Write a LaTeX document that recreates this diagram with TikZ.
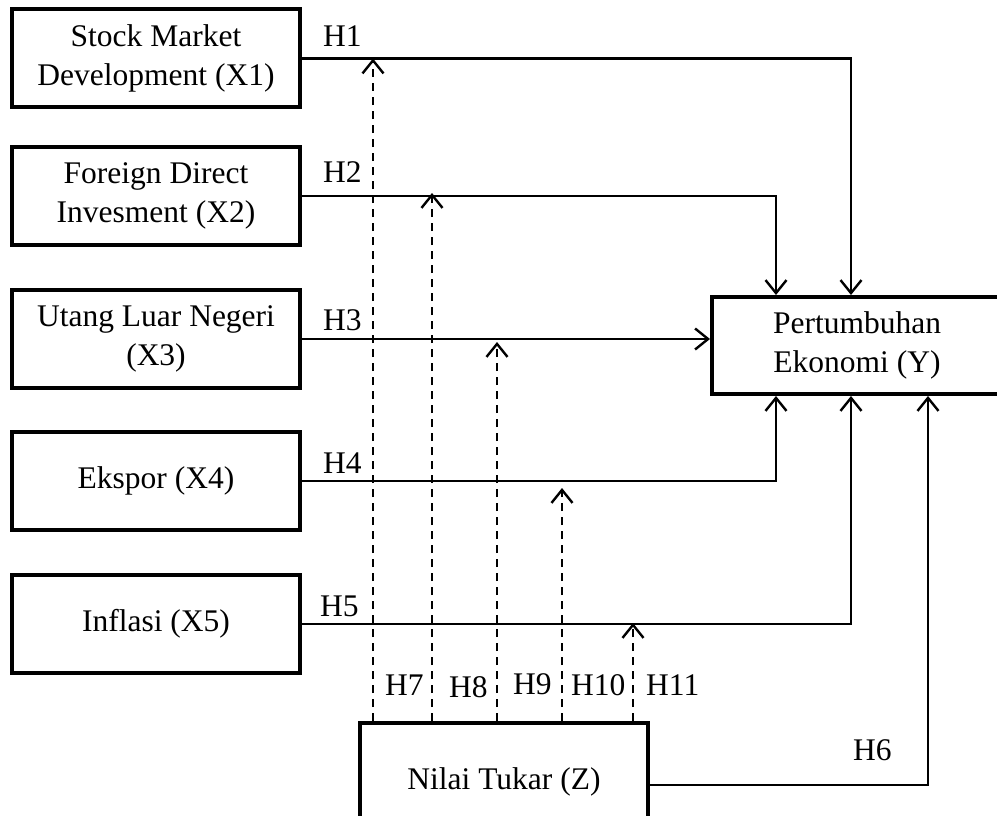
\documentclass[tikz,border=0pt]{standalone}
\usepackage{fontspec}
\setmainfont{Liberation Serif}
\usetikzlibrary{arrows.meta,calc}
\begin{document}
\begin{tikzpicture}[x=1pt,y=-1pt,
  box/.style={draw, line width=4pt, minimum width=288pt, minimum height=98pt, align=center, inner sep=0pt, font=\fontsize{31.5}{39}\selectfont},
  lbl/.style={anchor=base west, inner sep=0pt, font=\fontsize{31.5}{39}\selectfont},
  conn/.style={line width=2.4pt, -{Straight Barb[length=13pt,width=21pt,line width=2.4pt]}},
  dconn/.style={conn, dash pattern=on 8pt off 6pt}
]
\clip (0,0) rectangle (997,816);
\useasboundingbox (0,0) rectangle (997,816);

\node[box] (x1) at (156,58.5) {Stock Market\\Development (X1)};
\node[box] (x2) at (156,196) {Foreign Direct\\Invesment (X2)};
\node[box] (x3) at (156,339) {Utang Luar Negeri\\(X3)};
\node[box] (x4) at (156,481) {Ekspor (X4)};
\node[box] (x5) at (156,624) {Inflasi (X5)};
\node[box, minimum width=290pt, minimum height=97pt] (y) at (857,345.5) {Pertumbuhan\\Ekonomi (Y)};
\node[box, minimum height=118pt] (z) at (504,782) {Nilai Tukar (Z)};

% direct paths
\draw[conn] (x1.east) -| ([xshift=-6pt]y.north);
\draw[conn] (x2.east) -| ([xshift=-81pt]y.north);
\draw[conn] (x3.east) -- (x3.east -| y.west);
\draw[conn] (x4.east) -| ([xshift=-81pt]y.south);
\draw[conn] (x5.east) -| ([xshift=-6pt]y.south);
\draw[conn] ([yshift=-3pt]z.east) -| ([xshift=71pt]y.south);

% moderation paths
\draw[dconn] ([xshift=-131pt]z.north) coordinate (a7) -- (a7 |- x1.east);
\draw[dconn] ([xshift=-72pt]z.north) coordinate (a8) -- ($(a8 |- x2.east)+(0,-3)$);
\draw[dconn] ([xshift=-7pt]z.north) coordinate (a9) -- ($(a9 |- x3.east)+(0,3)$);
\draw[dconn] ([xshift=58pt]z.north) coordinate (a10) -- ($(a10 |- x4.east)+(0,7)$);
\draw[dconn] ([xshift=129pt]z.north) coordinate (a11) -- ($(a11 |- x5.east)+(0,-1)$);

% labels
\node[lbl] (h1) at (323,47) {H1};
\node[lbl] (h2) at (323,182) {H2};
\node[lbl] (h3) at (323,330) {H3};
\node[lbl] (h4) at (323,473) {H4};
\node[lbl] (h5) at (320,616) {H5};
\node[lbl] (h6) at (853,760) {H6};
\node[lbl] (h7) at (385,695) {H7};
\node[lbl] (h8) at (449,697) {H8};
\node[lbl] (h9) at (513,694) {H9};
\node[lbl] (h10) at (571,695) {H10};
\node[lbl] (h11) at (646,695) {H11};
\end{tikzpicture}
\end{document}
